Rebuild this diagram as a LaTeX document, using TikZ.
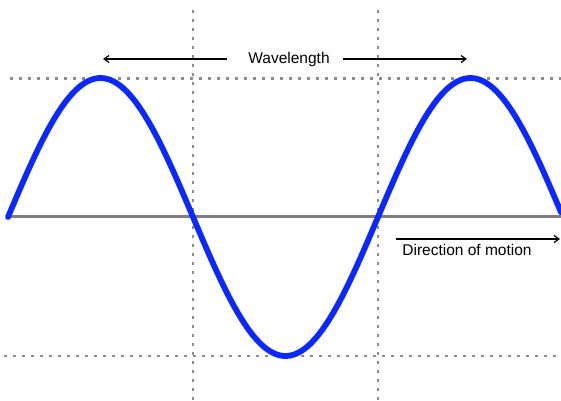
\documentclass[tikz,border=0pt]{standalone}
\usepackage{fontspec}
\setmainfont{Liberation Sans}
\usetikzlibrary{arrows.meta,positioning}
\definecolor{waveblue}{RGB}{10,40,255}
\definecolor{dotgray}{RGB}{140,140,140}

\begin{document}
\begin{tikzpicture}[x=1pt, y=-1pt, thick,
  guide/.style={dotgray, line width=2.8pt, dash pattern=on 2.8pt off 6.2pt},
  pointer/.style={-{Straight Barb[length=5pt,width=7pt]}, line width=1.2pt, black},
  label/.style={font=\fontsize{15.5}{18}\selectfont, inner sep=0pt}]
  \useasboundingbox (0,0) rectangle (561,400);

  % dotted guides
  \draw[guide] (10,78.5) -- (561,78.5);
  \draw[guide] (4,356) -- (561,356);
  \draw[guide] (193,10) -- (193,400);
  \draw[guide] (378,10) -- (378,400);

  % axis and wave
  \coordinate (o1) at (8,216.5);
  \coordinate (o2) at (561,216.5);
  \draw[dotgray!90!black, line width=2.6pt] (o1) -- (o2);
  \draw[waveblue, line width=5.8pt, line cap=round, smooth]
    plot[domain=8:561, samples=160] (\x, {217-139*sin((\x-8)/370*360)});

  % wavelength
  \node[label] (wl) at (289,59) {Wavelength};
  \coordinate (wlA) at (227,59);
  \coordinate (wlB) at (103,59);
  \coordinate (wlC) at (343,59);
  \coordinate (wlD) at (467,59);
  \draw[pointer] (wlA) -- (wlB);
  \draw[pointer] (wlC) -- (wlD);

  % motion
  \coordinate (m1) at (396,239);
  \coordinate (m2) at (560,239);
  \draw[pointer] (m1) -- (m2);
  \node[label, anchor=north west] (dm) at (402,244) {Direction of motion};
\end{tikzpicture}
\end{document}
